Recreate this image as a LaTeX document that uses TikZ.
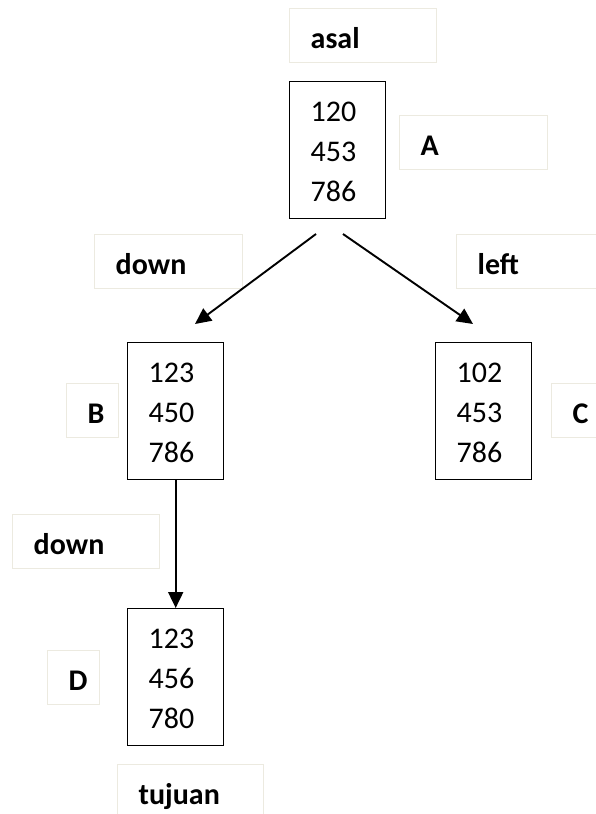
\documentclass[tikz,border=0pt]{standalone}
\usepackage{fontspec}
\setmainfont{Carlito}
\usetikzlibrary{arrows.meta}
\definecolor{lblframe}{RGB}{236,234,224}
\tikzset{
  numbox/.style={draw=black, line width=1.4pt, anchor=north west, inner xsep=21pt, inner ysep=0pt,
    text height=40pt, text depth=97pt, font=\fontsize{30}{40}\selectfont},
  lblbox/.style={draw=lblframe, line width=1.4pt, anchor=north west, inner xsep=21pt, inner ysep=0pt,
    text height=40pt, text depth=14pt, font=\fontsize{30}{36}\selectfont\bfseries},
  conn/.style={line width=1.9pt, -{Triangle[length=16pt,width=15pt]}}
}
\newcommand\numcol[1]{\makebox[54pt][l]{\begin{tabular}[t]{@{}l@{}}#1\end{tabular}}}
\newcommand\lbltext[2]{\makebox[#1][l]{#2}}
\begin{document}
\begin{tikzpicture}[x=1pt,y=-1pt]
\useasboundingbox (0,0) rectangle (595,814);
% state boxes
\node[numbox] (A) at (289,81) {\numcol{120\\453\\786}};
\node[numbox] (B) at (127,342) {\numcol{123\\450\\786}};
\node[numbox] (C) at (435,342) {\numcol{102\\453\\786}};
\node[numbox] (D) at (127,608) {\numcol{123\\456\\780}};
% labels
\node[lblbox] (asal) at (289,8) {\lbltext{105pt}{asal}};
\node[lblbox] (labA) at (399,115) {\lbltext{106pt}{A}};
\node[lblbox] (down1) at (94,234) {\lbltext{106pt}{down}};
\node[lblbox] (left) at (456,234) {\lbltext{105pt}{left}};
\node[lblbox] (labB) at (66,383) {\lbltext{10pt}{B}};
\node[lblbox] (labC) at (551,383) {\lbltext{10pt}{C}};
\node[lblbox] (down2) at (12,514) {\lbltext{105pt}{down}};
\node[lblbox] (labD) at (47,650) {\lbltext{10pt}{D}};
\node[lblbox] (tujuan) at (117,764) {\lbltext{104pt}{tujuan}};
% connectors
\coordinate (s1) at (316,234);
\coordinate (e1) at (195,324);
\coordinate (s2) at (343,234);
\coordinate (e2) at (473,324);
\draw[conn] (s1) -- (e1);
\draw[conn] (s2) -- (e2);
\draw[conn] (B.south) -- (D.north);
\end{tikzpicture}
\end{document}
